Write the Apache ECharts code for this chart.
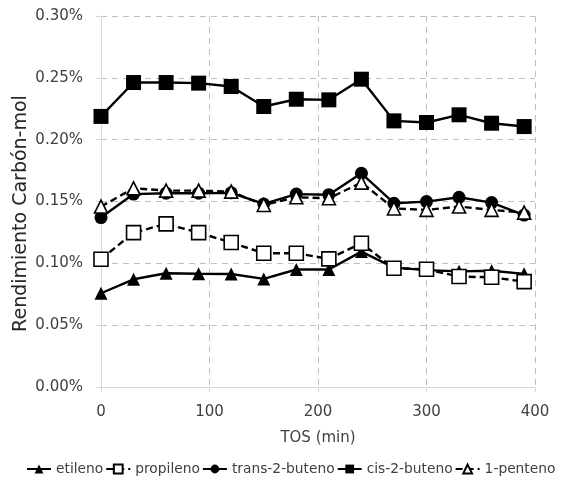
<!DOCTYPE html>
<html>
<head>
<meta charset="utf-8">
<script src="https://cdn.jsdelivr.net/npm/echarts@6/dist/echarts.min.js"></script>
<style>
html,body{margin:0;padding:0;background:#fff;}
#c{width:564px;height:484px;}
</style>
</head>
<body>
<div id="c"></div>
<script>
const tos = [0, 30, 60, 90, 120, 150, 180, 210, 240, 270, 300, 330, 360, 390];
const etileno = [0.0758, 0.0871, 0.0920, 0.0916, 0.0914, 0.0874, 0.0950, 0.0950, 0.1095, 0.0965, 0.0945, 0.0935, 0.0940, 0.0915];
const propileno = [0.1033, 0.1248, 0.1319, 0.1248, 0.1168, 0.1082, 0.1082, 0.1036, 0.1162, 0.0960, 0.0952, 0.0893, 0.0887, 0.0852];
const trans2buteno = [0.1370, 0.1560, 0.1567, 0.1567, 0.1570, 0.1480, 0.1560, 0.1555, 0.1728, 0.1486, 0.1499, 0.1534, 0.1491, 0.1390];
const cis2buteno = [0.2188, 0.2462, 0.2462, 0.2457, 0.2430, 0.2268, 0.2327, 0.2322, 0.2489, 0.2152, 0.2139, 0.2201, 0.2133, 0.2106];
const penteno1 = [0.1459, 0.1607, 0.1588, 0.1588, 0.1580, 0.1472, 0.1534, 0.1526, 0.1653, 0.1444, 0.1432, 0.1459, 0.1432, 0.1410];
const seriesNames = ['etileno', 'propileno', 'trans-2-buteno', 'cis-2-buteno', '1-penteno'];
const xTickLabels = ['0', '100', '200', '300', '400'];

function pairs(vals){ return tos.map((t,i)=>[t, vals[i]]); }

const font = '"DejaVu Sans", Verdana, sans-serif';
const chart = echarts.init(document.getElementById('c'), null, {renderer:'canvas'});

function mk(name, vals, symbol, size, fill, dashed){
  return {
    name: name, type: 'line', data: pairs(vals),
    symbol: symbol, symbolSize: size,
    lineStyle: {color: '#000', width: 2.4, type: dashed ? [7,4] : 'solid'},
    itemStyle: {color: fill, borderColor: '#000', borderWidth: fill === '#fff' ? 1.6 : 0},
    emphasis: {disabled: true},
    animation: false
  };
}

chart.setOption({
  backgroundColor: '#fff',
  animation: false,
  grid: {left: 101, right: 29, top: 16, bottom: 97, containLabel: false, outerBoundsMode: 'none'},
  legend: {
    top: 462, left: 26, right: 0, padding: 0, itemGap: 2, itemWidth: 24, itemHeight: 11,
    textStyle: {fontFamily: font, fontSize: 13.8, color: '#404040'},
    data: seriesNames
  },
  xAxis: {
    type: 'value', min: 0, max: 400, interval: 100,
    name: 'TOS (min)', nameLocation: 'middle', nameGap: 44,
    nameTextStyle: {fontFamily: font, fontSize: 15, color: '#404040'},
    axisLine: {show: true, lineStyle: {color: '#d9d9d9', width: 1}},
    axisTick: {show: true, length: 5, lineStyle: {color: '#d9d9d9'}},
    axisLabel: {fontFamily: font, fontSize: 15, color: '#404040', margin: 18,
      formatter: (v) => xTickLabels[Math.round(v / 100)]},
    splitLine: {show: true, lineStyle: {color: '#bfbfbf', type: [6,5], width: 1}}
  },
  yAxis: {
    type: 'value', min: 0, max: 0.30, interval: 0.05,
    name: 'Rendimiento Carbón-mol', nameLocation: 'middle', nameGap: 70,
    nameMoveOverlap: false,
    nameTextStyle: {fontFamily: font, fontSize: 19, color: '#262626', padding: [0, 24, 0, 0]},
    axisLine: {show: true, lineStyle: {color: '#d9d9d9', width: 1}},
    axisTick: {show: true, length: 5, lineStyle: {color: '#d9d9d9'}},
    axisLabel: {fontFamily: font, fontSize: 15, color: '#404040', margin: 18,
      formatter: v => v.toFixed(2) + '%'},
    splitLine: {show: true, lineStyle: {color: '#bfbfbf', type: [6,5], width: 1}}
  },
  series: [
    mk(seriesNames[0], etileno, 'triangle', 13, '#000', false),
    mk(seriesNames[1], propileno, 'rect', 14, '#fff', true),
    mk(seriesNames[2], trans2buteno, 'circle', 13, '#000', false),
    mk(seriesNames[3], cis2buteno, 'rect', 15, '#000', false),
    mk(seriesNames[4], penteno1, 'triangle', 13, '#fff', true)
  ]
});
</script>
</body>
</html>
